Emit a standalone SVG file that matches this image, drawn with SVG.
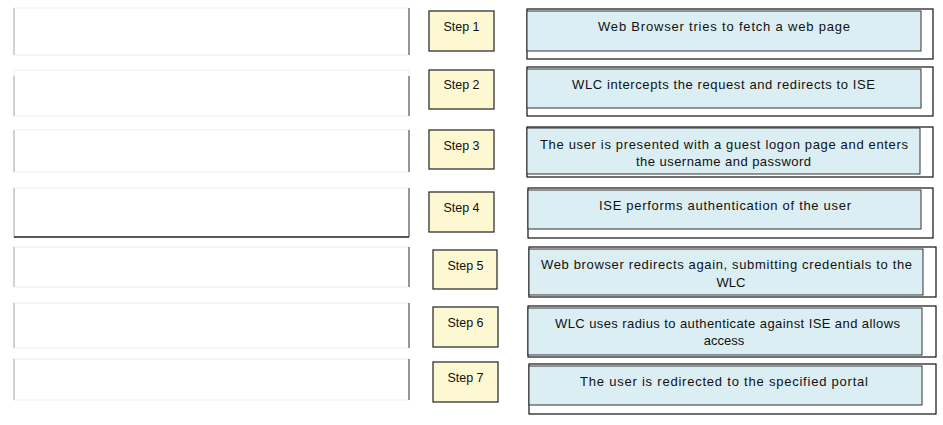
<svg xmlns="http://www.w3.org/2000/svg" width="943" height="425" viewBox="0 0 943 425">
<style>
  .lbox{fill:#fff;stroke:#e6eff3;stroke-width:1}
  .ledge{stroke:#a4afb8;stroke-width:1}
  .redge{stroke:#555;stroke-width:1.2}
  .step{fill:#fdf7d2;stroke:#333;stroke-width:1.3}
  .outer{fill:#fff;stroke:#111;stroke-width:1.2}
  .inner{fill:#daeef3;stroke:#333;stroke-width:1}
  text{font-family:"Liberation Sans","Open Sans",sans-serif;font-size:13px;fill:#111}
  .sl{font-size:12.5px}
  .st{text-anchor:middle}
</style>
<rect width="943" height="425" fill="#fff"/>

<g id="slots">
  <g id="slot1"><rect class="lbox" x="14" y="8" width="395" height="47"/><line class="ledge" x1="14" y1="8" x2="14" y2="55"/><line class="redge" x1="409" y1="8" x2="409" y2="55"/></g>
  <g id="slot2"><rect class="lbox" x="14" y="70" width="395" height="46"/><line class="ledge" x1="14" y1="76" x2="14" y2="116"/><line class="redge" x1="409" y1="76" x2="409" y2="116"/></g>
  <g id="slot3"><rect class="lbox" x="14" y="130" width="395" height="42"/><line class="ledge" x1="14" y1="130" x2="14" y2="172"/><line class="redge" x1="409" y1="130" x2="409" y2="172"/></g>
  <g id="slot4"><rect class="lbox" x="14" y="188" width="395" height="49"/><line class="ledge" x1="14" y1="188" x2="14" y2="237"/><line class="redge" x1="409" y1="188" x2="409" y2="237"/><line stroke="#222" stroke-width="1.3" x1="14" y1="237" x2="409" y2="237"/></g>
  <g id="slot5"><rect class="lbox" x="14" y="247" width="395" height="40"/><line class="ledge" x1="14" y1="247" x2="14" y2="287"/><line class="redge" x1="409" y1="247" x2="409" y2="287"/></g>
  <g id="slot6"><rect class="lbox" x="14" y="303" width="395" height="45"/><line class="ledge" x1="14" y1="303" x2="14" y2="348"/><line class="redge" x1="409" y1="303" x2="409" y2="348"/></g>
  <g id="slot7"><rect class="lbox" x="14" y="359" width="395" height="41"/><line class="ledge" x1="14" y1="359" x2="14" y2="400"/><line class="redge" x1="409" y1="359" x2="409" y2="400"/></g>
</g>

<g id="steps">
  <g id="step1"><rect class="step" x="429" y="11" width="65" height="40"/><text class="st sl" x="461.5" y="31">Step 1</text></g>
  <g id="step2"><rect class="step" x="429" y="70" width="65" height="39"/><text class="st sl" x="461.5" y="89">Step 2</text></g>
  <g id="step3"><rect class="step" x="429" y="130" width="65" height="39"/><text class="st sl" x="461.5" y="150">Step 3</text></g>
  <g id="step4"><rect class="step" x="429" y="192" width="65" height="40"/><text class="st sl" x="461.5" y="212">Step 4</text></g>
  <g id="step5"><rect class="step" x="433" y="250" width="64" height="39"/><text class="st sl" x="465.5" y="270">Step 5</text></g>
  <g id="step6"><rect class="step" x="433" y="307" width="65" height="40"/><text class="st sl" x="465.5" y="327">Step 6</text></g>
  <g id="step7"><rect class="step" x="433" y="362" width="65" height="40"/><text class="st sl" x="465.5" y="382">Step 7</text></g>
</g>

<g id="answers">
  <g id="ans1"><rect class="outer" x="527" y="9" width="406" height="50"/><rect class="inner" x="527" y="11" width="394" height="40"/>
    <text x="598" y="31" textLength="252" lengthAdjust="spacing">Web Browser tries to fetch a web page</text></g>
  <g id="ans2"><rect class="outer" x="527" y="67" width="406" height="49"/><rect class="inner" x="527" y="69" width="394" height="39"/>
    <text x="572" y="89" textLength="303" lengthAdjust="spacing">WLC intercepts the request and redirects to ISE</text></g>
  <g id="ans3"><rect class="outer" x="527" y="127" width="406" height="50"/><rect class="inner" x="527" y="128" width="393" height="46"/>
    <text x="540" y="149" textLength="368" lengthAdjust="spacing">The user is presented with a guest logon page and enters</text>
    <text x="636" y="166" textLength="175" lengthAdjust="spacing">the username and password</text></g>
  <g id="ans4"><rect class="outer" x="528" y="188" width="405" height="50"/><rect class="inner" x="528" y="190" width="393" height="39"/>
    <text x="599" y="210" textLength="252" lengthAdjust="spacing">ISE performs authentication of the user</text></g>
  <g id="ans5"><rect class="outer" x="529" y="247" width="407" height="50"/><rect class="inner" x="529" y="249" width="394" height="46"/>
    <text x="541" y="269" textLength="371" lengthAdjust="spacing">Web browser redirects again, submitting credentials to the</text>
    <text x="731" y="287" class="st">WLC</text></g>
  <g id="ans6"><rect class="outer" x="528" y="306" width="408" height="51"/><rect class="inner" x="528" y="308" width="394" height="47"/>
    <text x="555" y="328" textLength="345" lengthAdjust="spacing">WLC uses radius to authenticate against ISE and allows</text>
    <text x="724" y="345" class="st">access</text></g>
  <g id="ans7"><rect class="outer" x="529" y="364" width="407" height="50"/><rect class="inner" x="529" y="366" width="393" height="39"/>
    <text x="580" y="386" textLength="288" lengthAdjust="spacing">The user is redirected to the specified portal</text></g>
</g>
<g id="connectors"/>
</svg>
